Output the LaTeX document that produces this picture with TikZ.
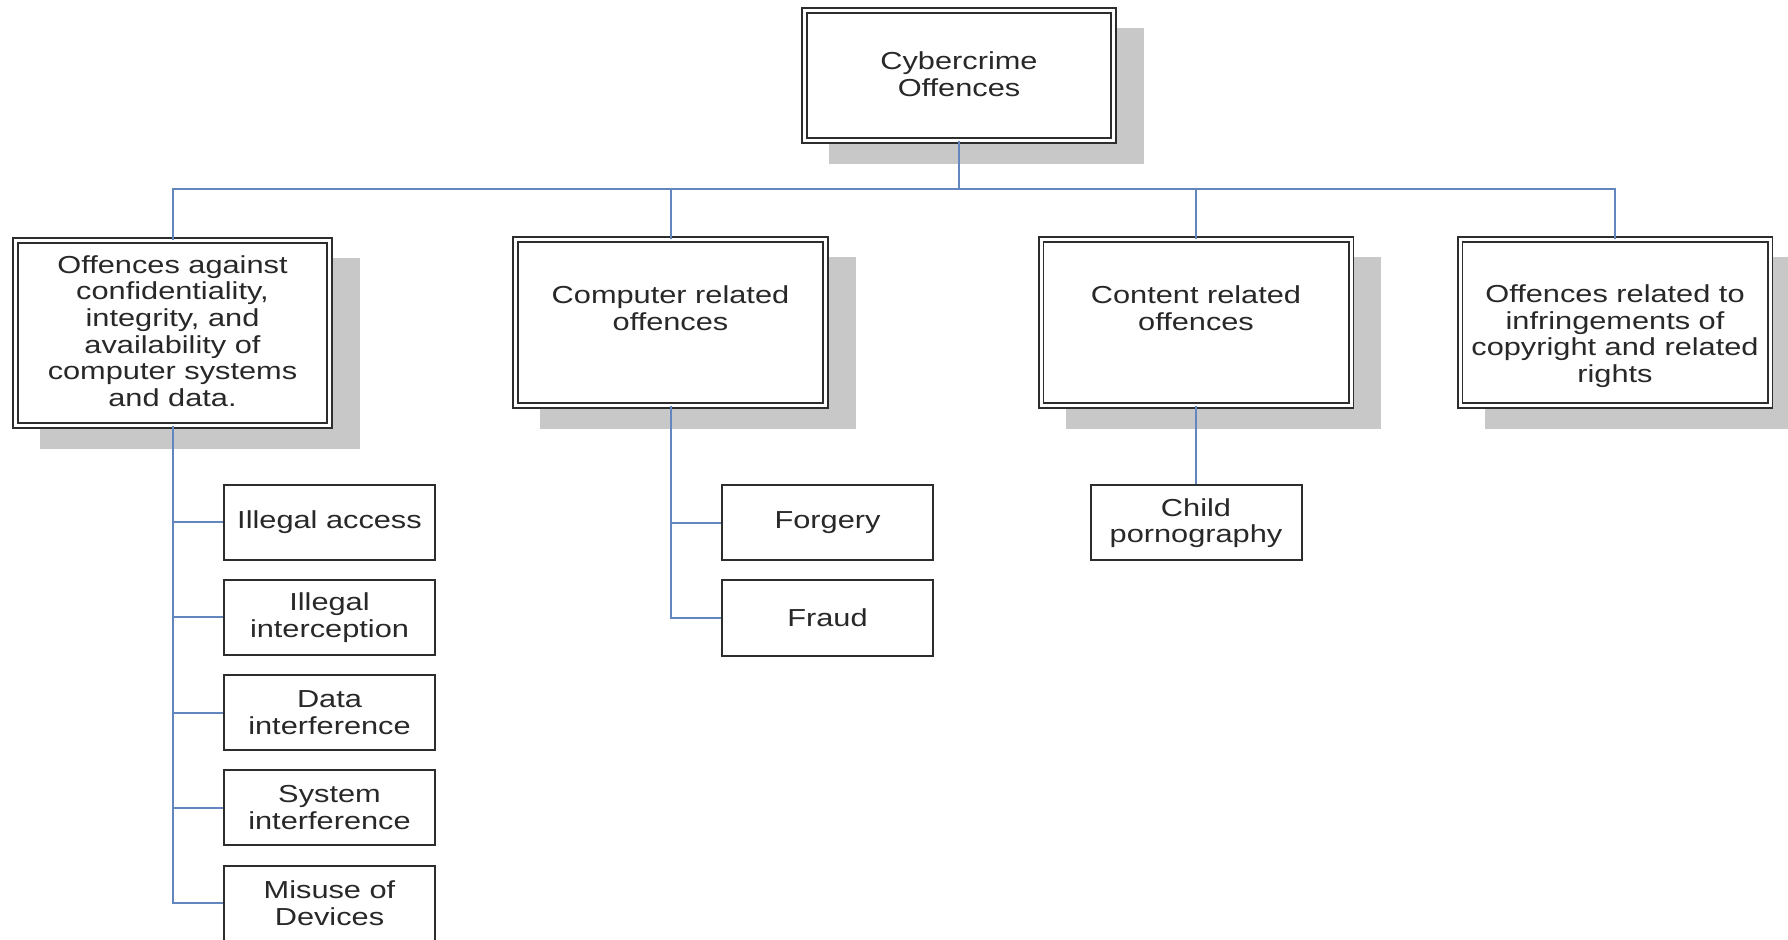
\documentclass[tikz,border=0pt]{standalone}
\usepackage{fontspec}
\setmainfont[FakeStretch=1.25]{Liberation Sans}
\usetikzlibrary{calc}
\pgfdeclarelayer{background}
\pgfsetlayers{background,main}
\definecolor{linkblue}{RGB}{100,134,190}
\definecolor{boxline}{RGB}{45,45,45}
\definecolor{shade}{RGB}{200,200,200}
\definecolor{txt}{RGB}{40,40,40}
\tikzset{
  mainbox/.style={draw=boxline, line width=0.9pt, double=white, double distance=1.5pt,
    fill=white, minimum width=155pt, minimum height=83pt},
  maintext/.style={align=center, text=txt, inner sep=0pt, font=\fontsize{12.3}{13.3}\selectfont},
  subbox/.style={draw=boxline, line width=1pt, fill=white, align=center, text=txt,
    minimum width=105.5pt, minimum height=37.5pt, inner sep=1pt,
    font=\fontsize{12.3}{13.3}\selectfont},
  link/.style={draw=linkblue, line width=1pt},
  shadowfill/.style={fill=shade},
}
\begin{document}
\begin{tikzpicture}[x=0.5pt, y=-0.5pt]
\begin{pgfonlayer}{background}
\fill[white] (0,0) rectangle (1788,940);
\end{pgfonlayer}
\useasboundingbox (0,0) rectangle (1788,940);
\begin{scope}
\clip (0,0) rectangle (1788,940);
% level 1
\node[mainbox, minimum width=154.5pt, minimum height=65pt] (top) at (959,75.5) {};
\node[maintext] (ttop) at (959,74) {Cybercrime\\Offences};
% level 2
\node[mainbox, minimum width=157pt, minimum height=92.5pt] (b1) at (172.5,333) {};
\node[maintext] (t1) at (172.5,331) {Offences against\\confidentiality,\\integrity, and\\availability of\\computer systems\\and data.};
\node[mainbox] (b2) at (670.5,322.5) {};
\node[maintext] (t2) at (670.5,308) {Computer related\\offences};
\node[mainbox] (b3) at (1196,322.5) {};
\node[maintext] (t3) at (1196,308) {Content related\\offences};
\node[mainbox] (b4) at (1615,322.5) {};
\node[maintext] (t4) at (1615,336) {Offences related to\\infringements of\\copyright and related\\rights};
% shadows
\begin{pgfonlayer}{background}
\foreach \b in {top,b1,b2,b3,b4}
  \fill[shadowfill] ($(\b.north west)+(25.5,18)$) rectangle ($(\b.south east)+(29.3,22.3)$);
\end{pgfonlayer}
% level 3
\node[subbox] (il) at (329.5,522.5) {Illegal access};
\node[subbox] (ii) at (329.5,617.5) {Illegal\\interception};
\node[subbox] (di) at (329.5,712.5) {Data\\interference};
\node[subbox] (si) at (329.5,807.5) {System\\interference};
\node[subbox] (md) at (329.5,903) {Misuse of\\Devices};
\node[subbox] (fo) at (827.5,523) {Forgery};
\node[subbox] (fr) at (827.5,618) {Fraud};
\node[subbox] (cp) at (1196,523) {Child\\pornography};
% connectors
\coordinate (bus) at (959,189);
\draw[link] (top.south) -- (bus);
\draw[link] (b1.north) -- (b1.north |- bus) -- (b4.north |- bus) -- (b4.north);
\draw[link] (b2.north) -- (b2.north |- bus);
\draw[link] (b3.north) -- (b3.north |- bus);
\draw[link] (b1.south) |- (md.west);
\draw[link] (il.west -| b1.south) -- (il.west);
\draw[link] (ii.west -| b1.south) -- (ii.west);
\draw[link] (di.west -| b1.south) -- (di.west);
\draw[link] (si.west -| b1.south) -- (si.west);
\draw[link] (b2.south) |- (fr.west);
\draw[link] (fo.west -| b2.south) -- (fo.west);
\draw[link] (b3.south) -- (cp.north);
\end{scope}
\end{tikzpicture}
\end{document}
